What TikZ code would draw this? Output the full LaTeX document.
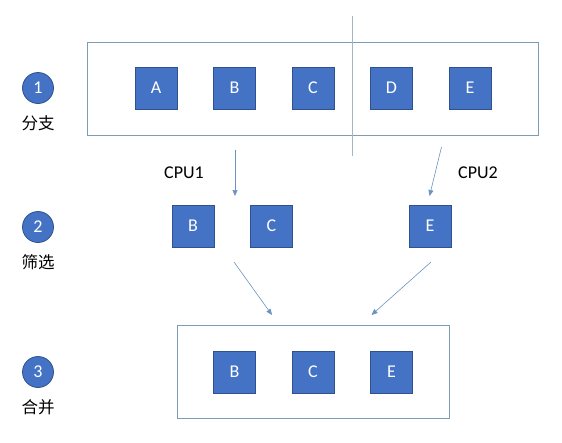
\documentclass[tikz,border=0pt]{standalone}
\usepackage{fontspec}
\setmainfont{Carlito}
\newfontfamily\cjk{Noto Sans CJK SC}
\usetikzlibrary{arrows.meta}
\definecolor{sqblue}{HTML}{4472C4}
\definecolor{sqedge}{HTML}{2F528F}
\definecolor{boxedge}{HTML}{7F9CB5}
\definecolor{arrowc}{HTML}{6A93BF}
\definecolor{linec}{HTML}{A3B6C6}
\tikzset{
  sq/.style={draw=sqedge, line width=0.8pt, fill=sqblue, minimum size=42pt, inner sep=0pt, text=white, font=\fontsize{18}{18}\selectfont},
  numc/.style={circle, draw=sqedge, line width=0.8pt, fill=sqblue, minimum size=31pt, inner sep=0pt, text=white, font=\fontsize{18}{18}\selectfont},
  lbl/.style={font=\cjk\fontsize{16.5}{16.5}\selectfont, inner sep=0pt},
  cpu/.style={font=\fontsize{18}{18}\selectfont, inner sep=0pt},
  frame/.style={draw=boxedge, line width=1pt},
  arr/.style={draw=arrowc, line width=0.6pt, -{Triangle[width=5pt,length=6pt]}}
}
\begin{document}
\begin{tikzpicture}[x=1pt,y=-1pt]
\useasboundingbox (0,0) rectangle (562,442);
% frames
\draw[frame] (87.5,42) rectangle (538.5,135);
\draw[frame] (177,325) rectangle (449,418);
% divider
\coordinate (dtop) at (352.5,16);
\coordinate (dbot) at (352.5,156);
\draw[linec, line width=0.8pt] (dtop) -- (dbot);
% step markers
\node[numc] (n1) at (38,88) {1};
\node[lbl] (l1) at (38,123) {分支};
\node[numc] (n2) at (38,227) {2};
\node[lbl] (l2) at (38,262) {筛选};
\node[numc] (n3) at (38,372) {3};
\node[lbl] (l3) at (38,407) {合并};
% row 1
\node[sq] (a1) at (156,88) {A};
\node[sq] (b1) at (234.5,88) {B};
\node[sq] (c1) at (313,88) {C};
\node[sq] (d1) at (391.5,88) {D};
\node[sq] (e1) at (470,88) {E};
% row 2
\node[sq] (b2) at (193,226) {B};
\node[sq] (c2) at (271.5,226) {C};
\node[sq] (e2) at (430,226) {E};
\node[cpu] (cpu1) at (184,173) {CPU1};
\node[cpu] (cpu2) at (478,173) {CPU2};
% row 3
\node[sq] (b3) at (234.5,372) {B};
\node[sq] (c3) at (313,372) {C};
\node[sq] (e3) at (391.5,372) {E};
% arrows
\coordinate (s1) at (235,150);
\coordinate (t1) at (235,196);
\coordinate (s2) at (441.5,147);
\coordinate (t2) at (429.5,196);
\coordinate (s3) at (234,262);
\coordinate (t3) at (272,315);
\coordinate (s4) at (431,262);
\coordinate (t4) at (371.5,315);
\draw[arr] (s1) -- (t1);
\draw[arr] (s2) -- (t2);
\draw[arr] (s3) -- (t3);
\draw[arr] (s4) -- (t4);
\end{tikzpicture}
\end{document}
